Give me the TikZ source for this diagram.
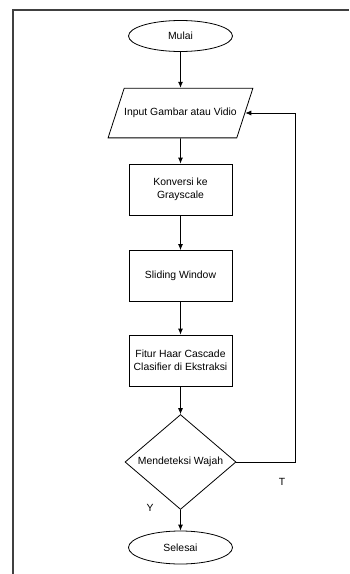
\documentclass[tikz,border=0pt]{standalone}
\usepackage{fontspec}
\setmainfont{Liberation Sans}
\usepackage{tikz}
\usetikzlibrary{shapes.geometric, arrows, arrows.meta}
\tikzstyle{arrow} = [line width=0.8pt,->,>={Latex[length=6pt,width=5pt]}]
\tikzstyle{terminal} = [ellipse, draw, line width=0.8pt, minimum width=104pt, minimum height=31pt, inner sep=0pt]
\tikzstyle{io} = [trapezium, trapezium left angle=72, trapezium right angle=108, trapezium stretches body=true, draw, line width=0.8pt, minimum width=135pt, inner xsep=0pt, inner ysep=20pt]
\tikzstyle{process} = [rectangle, draw, line width=0.8pt, minimum width=103pt, minimum height=51pt, align=center]
\tikzstyle{decision} = [diamond, draw, line width=0.8pt, minimum width=111pt, minimum height=84pt, inner sep=0pt]

\begin{document}
\begin{tikzpicture}[x=1pt, y=-1pt, every node/.style={font=\fontsize{10.4}{13.3}\selectfont}]
    \useasboundingbox (0,0) rectangle (349,574);
    
      % Frame
      \draw[line width=1.5pt, black!75] (13,574) -- (13,10) -- (349,10);
    
      % Nodes
      \node[terminal] (mulai) at (180.5,36) {Mulai};
      \node[io] (input) at (180.5,113) {Input Gambar atau Vidio};
      \node[process] (konversi) at (180.5,189.5) {Konversi ke\\Grayscale};
      \node[process] (sliding) at (180.5,276) {Sliding Window};
      \node[process] (fitur) at (180.5,360.5) {Fitur Haar Cascade\\Clasifier di Ekstraksi};
      \node[decision] (deteksi) at (180.5,462) {Mendeteksi Wajah};
      \node[terminal, minimum height=33pt] (selesai) at (180.5,547.5) {Selesai};
      \node (labelT) at (282,482) {T};
      \node (labelY) at (150,508) {Y};
      
      %Edges
      \draw[arrow] (mulai) -- (input);
      \draw[arrow] (input) -- (konversi);
      \draw[arrow] (konversi) -- (sliding);
      \draw[arrow] (sliding) -- (fitur);
      \draw[arrow] (fitur) -- (deteksi);
      \draw[arrow] (deteksi) -- (selesai);
      \draw[arrow] (deteksi.east) -- ++(59,0) |- (input.east);

  \end{tikzpicture}
\end{document}
